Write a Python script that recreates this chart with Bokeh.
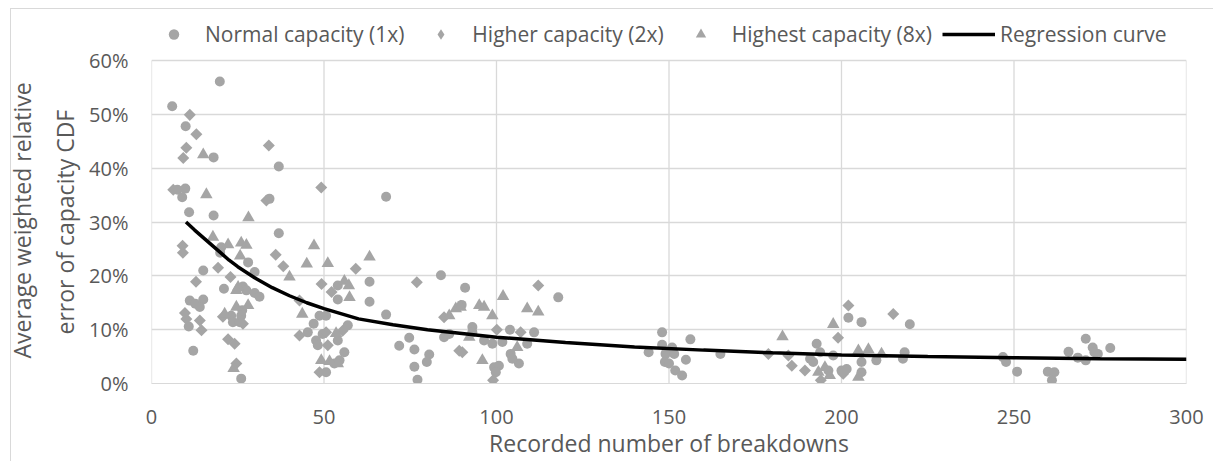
from bokeh.plotting import figure
from bokeh.models import (FixedTicker, PrintfTickFormatter, Legend, LegendItem, Title, Range1d)
from bokeh.embed import file_html
from bokeh.resources import INLINE
import math

# ---------------- data ----------------
normal_x = [6.0, 19.8, 9.9, 18.0, 36.9, 7.5, 9.8, 8.9, 10.9, 18.0, 34.2, 68.0, 36.9, 20.2, 19.9,
            28.0, 29.9, 15.0, 21.0, 63.2, 63.2, 54.0, 54.0, 26.5, 27.5, 29.9, 31.3, 11.1, 12.7, 15.0,
            14.0, 10.8, 23.1, 23.6, 25.6, 26.0, 26.3, 12.1, 26.0, 68.0, 47.0, 48.7, 50.6, 45.3, 47.7,
            48.2, 49.6, 54.0, 56.9, 55.9, 54.5, 53.0, 50.6, 71.8, 74.7, 76.2, 80.5, 79.8, 76.2, 77.1,
            83.9, 84.8, 86.3, 90.9, 117.9, 89.9, 93.0, 93.0, 103.9, 110.9, 108.9, 96.4, 98.8, 101.7,
            104.1, 106.5, 104.6, 99.3, 100.7, 99.8, 148.0, 148.0, 150.9, 144.1, 149.0, 151.5, 156.2,
            148.8, 150.0, 154.9, 151.8, 153.8, 164.9, 202.0, 205.8, 219.8, 192.8, 193.8, 197.6, 190.9,
            191.8, 196.2, 200.0, 201.5, 205.8, 205.8, 210.1, 218.3, 217.8, 246.8, 247.7, 250.9, 259.8,
            261.7, 261.0, 265.8, 270.8, 268.5, 270.8, 272.8, 274.3, 273.3, 277.9]
normal_y = [51.5, 56.1, 47.8, 42.0, 40.3, 36.0, 36.2, 34.6, 31.8, 31.2, 34.3, 34.7, 27.9, 25.3, 24.3,
            22.5, 20.7, 21.0, 17.6, 18.9, 15.2, 18.2, 15.6, 18.0, 17.3, 16.8, 16.1, 15.4, 14.8, 15.6,
            14.2, 10.6, 12.6, 11.4, 11.4, 12.6, 13.6, 6.1, 0.9, 12.8, 11.1, 12.6, 12.6, 9.5, 8.0,
            7.1, 9.2, 8.0, 10.8, 5.8, 4.3, 3.7, 2.1, 7.0, 8.5, 6.3, 5.4, 4.0, 3.1, 0.7,
            20.1, 8.6, 9.2, 17.8, 16.0, 14.6, 10.5, 9.5, 10.0, 9.5, 7.4, 8.0, 7.4, 7.7,
            5.5, 3.7, 4.6, 3.0, 3.3, 2.1, 9.5, 7.2, 6.7, 5.8, 5.5, 5.5, 8.2,
            4.0, 3.7, 4.4, 2.4, 1.5, 5.5, 12.2, 11.4, 11.0, 7.4, 5.8, 5.2, 4.6,
            4.0, 2.4, 2.4, 2.7, 4.0, 2.1, 4.3, 5.8, 4.6, 4.9, 4.0, 2.2, 2.2,
            2.1, 0.6, 5.9, 8.3, 4.8, 4.3, 6.7, 5.5, 5.8, 6.6]

higher_x = [11.1, 13.0, 34.0, 10.1, 9.2, 6.3, 33.3, 49.2, 9.0, 9.1, 19.3, 22.9, 12.9, 36.0, 38.2,
            49.3, 59.2, 52.2, 42.9, 9.7, 10.1, 14.0, 14.5, 20.7, 26.5, 22.2, 24.1, 24.6, 42.9, 50.6,
            51.1, 48.7, 55.4, 76.9, 84.8, 89.2, 100.1, 107.0, 90.1, 99.0, 112.1, 178.8, 184.6, 185.6,
            189.4, 194.0, 199.0, 200.5, 202.0, 215.0]
higher_y = [49.9, 46.3, 44.2, 43.8, 41.9, 36.0, 34.0, 36.4, 25.6, 24.3, 21.5, 19.8, 18.9, 23.9, 21.8,
            18.5, 21.3, 17.0, 15.4, 13.1, 12.0, 11.7, 9.9, 12.4, 11.1, 8.2, 7.4, 3.7, 8.9, 9.5,
            7.1, 2.1, 9.8, 18.8, 12.3, 6.1, 10.0, 9.5, 5.8, 0.6, 18.2, 5.5, 5.2, 3.3,
            2.4, 0.6, 8.5, 1.8, 14.5, 12.9]

highest_x = [15.0, 15.9, 28.1, 17.8, 22.2, 26.0, 27.5, 25.7, 40.0, 47.1, 45.0, 51.1, 63.2, 55.9, 57.2,
             57.4, 25.1, 24.6, 21.2, 24.6, 28.0, 43.7, 49.2, 51.6, 54.0, 53.5, 23.8, 86.3, 88.2, 89.6,
             95.0, 96.4, 98.8, 101.9, 108.9, 112.1, 92.1, 95.9, 106.0, 182.9, 197.6, 195.2, 196.6,
             193.3, 204.9, 207.8, 211.6, 204.9]
highest_y = [42.5, 35.1, 30.8, 27.2, 25.8, 26.1, 25.7, 23.7, 19.8, 25.6, 22.2, 22.3, 23.5, 19.0, 18.2,
             16.0, 17.9, 17.3, 12.9, 14.2, 14.5, 12.9, 4.3, 4.1, 3.7, 9.3, 2.8, 12.6, 13.9, 14.2,
             14.5, 14.2, 12.6, 16.2, 13.9, 13.3, 8.6, 4.3, 6.7, 8.7, 11.0, 3.0, 1.5,
             2.1, 6.1, 6.3, 5.5, 1.2]

curve_x = [10, 12.5, 15, 17.5, 20, 22.5, 25, 30, 35, 40, 45, 50, 60, 70, 80, 90, 100, 120, 140, 160,
           180, 200, 225, 250, 275, 300]
curve_y = [30.0, 28.5, 27.1, 25.7, 24.3, 22.9, 21.7, 19.6, 17.8, 16.3, 15.0, 13.9, 12.0, 10.9, 10.0,
           9.3, 8.6, 7.6, 6.8, 6.2, 5.7, 5.3, 5.0, 4.8, 4.6, 4.5]

series_names = ["Normal capacity (1x)", "Higher capacity (2x)", "Highest capacity (8x)", "Regression curve"]
x_ticks = [0, 50, 100, 150, 200, 250, 300]
y_ticks = [0, 10, 20, 30, 40, 50, 60]
x_title = "Recorded number of breakdowns"
y_title_lines = ["Average weighted relative", "error of capacity CDF"]

# ---------------- styles / layout ----------------
FONT = "Open Sans"
TXT = "#595959"
GRID = "#d9d9d9"
MARK = "#a5a5a5"

X_MAX = 300
Y_MAX = 60
PX_PER_PCT = 323 / Y_MAX          # plot area is 323 px tall for 0..60 %
TOP_ROOM = 45                      # px above the 60 % line reserved for the legend
Y_VIEW_MAX = Y_MAX + TOP_ROOM / PX_PER_PCT

p = figure(width=1213, height=461, output_backend="svg", toolbar_location=None,
           x_range=Range1d(0, X_MAX), y_range=Range1d(0, Y_VIEW_MAX),
           min_border_left=148, min_border_right=27, min_border_top=60 - TOP_ROOM, min_border_bottom=78)
p.outline_line_color = None
p.background_fill_color = "white"
p.border_fill_color = "white"
# light chart-area frame (left and top edges visible, as in the reference)
p.stylesheets = [":host::after { content: ''; position: absolute; left: 10px; top: 8px; "
                 "width: 1215px; height: 470px; border: 1px solid #d9d9d9; box-sizing: border-box; "
                 "pointer-events: none; z-index: 10; }"]

# vertical grid lines limited to the 0..60 % band
p.xgrid.visible = False
p.segment(x0=x_ticks, y0=[0] * len(x_ticks), x1=x_ticks, y1=[Y_MAX] * len(x_ticks),
          line_color=GRID, line_width=1.3, level="underlay")
p.ygrid.grid_line_color = GRID
p.ygrid.grid_line_width = 1.3

r1 = p.scatter(normal_x, normal_y, marker="circle", size=10, fill_color=MARK, line_color=None)
r2 = p.scatter(higher_x, higher_y, marker="square", angle=math.pi / 4, size=8.5, fill_color=MARK, line_color=None)
r3 = p.scatter(highest_x, highest_y, marker="triangle", size=12.5, fill_color=MARK, line_color=None)
r4 = p.line(curve_x, curve_y, line_color="black", line_width=3.5)
# legend-only swatch for the diamond (legend swatches are drawn without rotation); hidden in the plot
r2_key = p.scatter(higher_x[:1], higher_y[:1], marker="diamond", size=15, fill_color=MARK,
                   line_color=None, visible=False)

p.xaxis.ticker = FixedTicker(ticks=x_ticks)
p.yaxis.ticker = FixedTicker(ticks=y_ticks)
p.yaxis.formatter = PrintfTickFormatter(format="%d%%")
for ax in (p.xaxis, p.yaxis):
    ax.major_tick_line_color = None
    ax.minor_tick_line_color = None
    ax.major_label_text_font = FONT
    ax.major_label_text_font_size = "20px"
    ax.major_label_text_color = TXT
p.xaxis.axis_line_color = GRID
p.yaxis.axis_line_color = None
p.xaxis.major_label_standoff = 20
p.yaxis.major_label_standoff = 17

p.xaxis.axis_label = x_title
p.xaxis.axis_label_text_font = FONT
p.xaxis.axis_label_text_font_size = "23px"
p.xaxis.axis_label_text_font_style = "normal"
p.xaxis.axis_label_text_color = TXT
p.xaxis.axis_label_standoff = 0

# two-line y title, each line centred on the 0..60 % band
for line, off, so in ((y_title_lines[1], 49, 12), (y_title_lines[0], 25, 6)):
    t = Title(text=line, align="left", offset=off, text_font=FONT, text_font_size="23px",
              text_font_style="normal", text_color=TXT, standoff=so)
    p.add_layout(t, "left")

legend = Legend(items=[LegendItem(label=series_names[0], renderers=[r1]),
                       LegendItem(label=series_names[1], renderers=[r2_key]),
                       LegendItem(label=series_names[2], renderers=[r3]),
                       LegendItem(label=series_names[3], renderers=[r4])],
                orientation="horizontal", location=(-4, 335),
                glyph_width=53, glyph_height=26, label_standoff=5, spacing=10,
                padding=0, margin=0, border_line_color=None, background_fill_alpha=0,
                inactive_fill_alpha=0,
                label_text_font=FONT, label_text_font_size="21px", label_text_color=TXT)
p.add_layout(legend, "center")

open("out.html", "w").write(file_html(p, INLINE))
